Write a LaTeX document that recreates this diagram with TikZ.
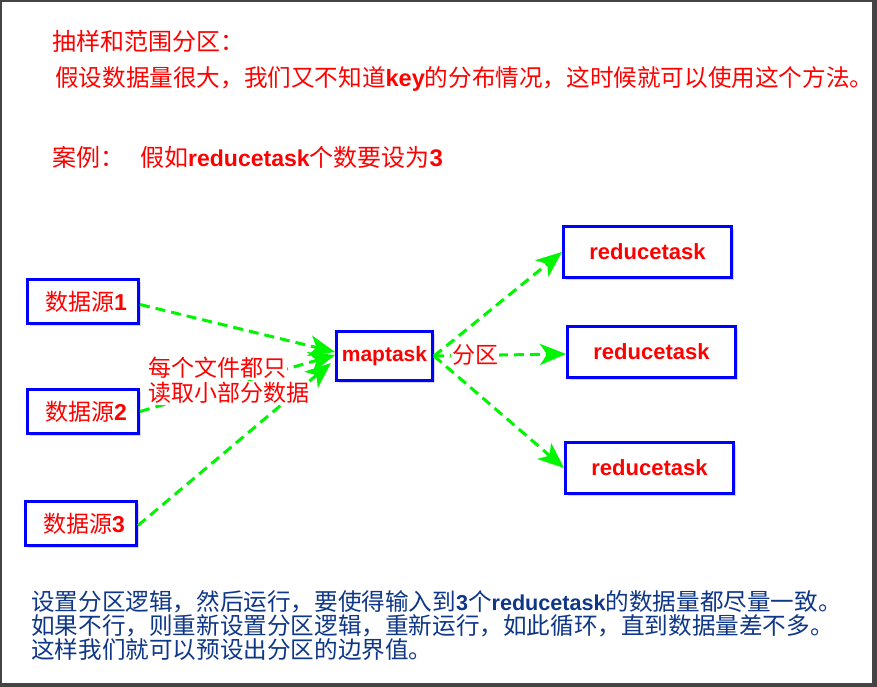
\documentclass[tikz,border=0pt]{standalone}
\usepackage{fontspec}
\setmainfont{Noto Sans CJK SC}
\newfontfamily\lat{Liberation Sans}
\usetikzlibrary{arrows.meta,shadows,calc}
\definecolor{rd}{RGB}{255,0,0}
\definecolor{bl}{RGB}{0,0,255}
\definecolor{gr}{RGB}{0,245,0}
\definecolor{nv}{RGB}{15,55,135}
\definecolor{framegray}{RGB}{68,68,68}
\newcommand\LB[1]{{\lat\bfseries #1}}
\newcommand\LBb[1]{{\fontsize{21.6}{24}\selectfont\lat\bfseries #1}}
\begin{document}
\begin{tikzpicture}[x=1pt,y=1pt,
  box/.style={draw=bl, line width=3pt, fill=white, inner sep=0pt, text=rd,
    font=\fontsize{23}{26}\selectfont,
    drop shadow={shadow xshift=2.5pt,shadow yshift=-2.5pt,opacity=0.3}},
  srcbox/.style={box, minimum width=111pt, minimum height=44pt},
  mapbox/.style={box, minimum width=96pt, minimum height=49pt},
  redbox/.style={box, minimum width=168pt, minimum height=51pt},
  flow/.style={draw=gr, line width=3pt, dash pattern=on 10pt off 6pt,
    -{Stealth[length=26pt,width=21pt,inset=7pt]}},
  ttl/.style={text=rd, font=\fontsize{24}{26}\selectfont, inner sep=0pt},
  lbl/.style={text=rd, fill=white, font=\fontsize{23}{26}\selectfont, inner sep=1pt},
  note/.style={text=nv, font=\fontsize{23.6}{24.2}\selectfont, inner sep=0pt, align=left}
]
\fill[framegray] (0,0) rectangle (877,-687);
\fill[white] (2,-2) rectangle (872,-683);
\useasboundingbox (0,0) rectangle (877,-687);

% top texts
\node[ttl, anchor=west] (t1) at (52,-41) {抽样和范围分区：};
\node[ttl, anchor=west, font=\fontsize{23.6}{26}\selectfont] (t2) at (55,-79) {假设数据量很大，我们又不知道\LB{key}的分布情况，这时候就可以使用这个方法。};
\node[ttl, anchor=west] (t3) at (52,-157) {案例：\hspace{16pt}假如{\fontsize{23}{26}\selectfont\LB{reducetask}}个数要设为\LB{3}};

% boxes
\node[srcbox] (s1) at (83,-301.5) {\hspace{6pt}数据源\LB{1}};
\node[srcbox] (s2) at (83,-411.5) {\hspace{6pt}数据源\LB{2}};
\node[srcbox] (s3) at (81,-523.5) {\hspace{6pt}数据源\LB{3}};
\node[mapbox] (mt) at (384.5,-356) {\raisebox{2pt}{\fontsize{21}{24}\selectfont\LB{maptask}}};
\node[redbox] (r1) at (647.5,-252) {\fontsize{22}{24}\selectfont\LB{reducetask}\hspace{4pt}};
\node[redbox] (r2) at (651.5,-352) {\fontsize{22}{24}\selectfont\LB{reducetask}\hspace{12pt}};
\node[redbox] (r3) at (649.5,-468) {\fontsize{22}{24}\selectfont\LB{reducetask}\hspace{6pt}};

% connectors
\draw[flow] ($(s1.east)+(0,-3)$) -- ($(mt.west)+(0,4)$);
\draw[flow] (s2.east) -- ($(mt.west)+(0,1)$);
\draw[flow] ($(s3.east)+(0,-2)$) -- ($(mt.west)+(-4,-7)$);
\draw[flow] (mt.east) -- (r1.west);
\draw[flow] (mt.east) -- ($(r2.west)+(0,-2)$);
\draw[flow] (mt.east) -- (r3.west);

% labels over connectors
\node[lbl, anchor=west] (l1) at (147,-368) {每个文件都只};
\node[lbl, anchor=west] (l2) at (147,-393) {读取小部分数据};
\node[lbl] (pq) at (475,-355) {分区};

% bottom note
\node[note, anchor=north west] (n) at (31,-590) {设置分区逻辑，然后运行，要使得输入到\LBb{3}个\LBb{reducetask}的数据量都尽量一致。\\
如果不行，则重新设置分区逻辑，重新运行，如此循环，直到数据量差不多。\\
这样我们就可以预设出分区的边界值。};
\end{tikzpicture}
\end{document}
